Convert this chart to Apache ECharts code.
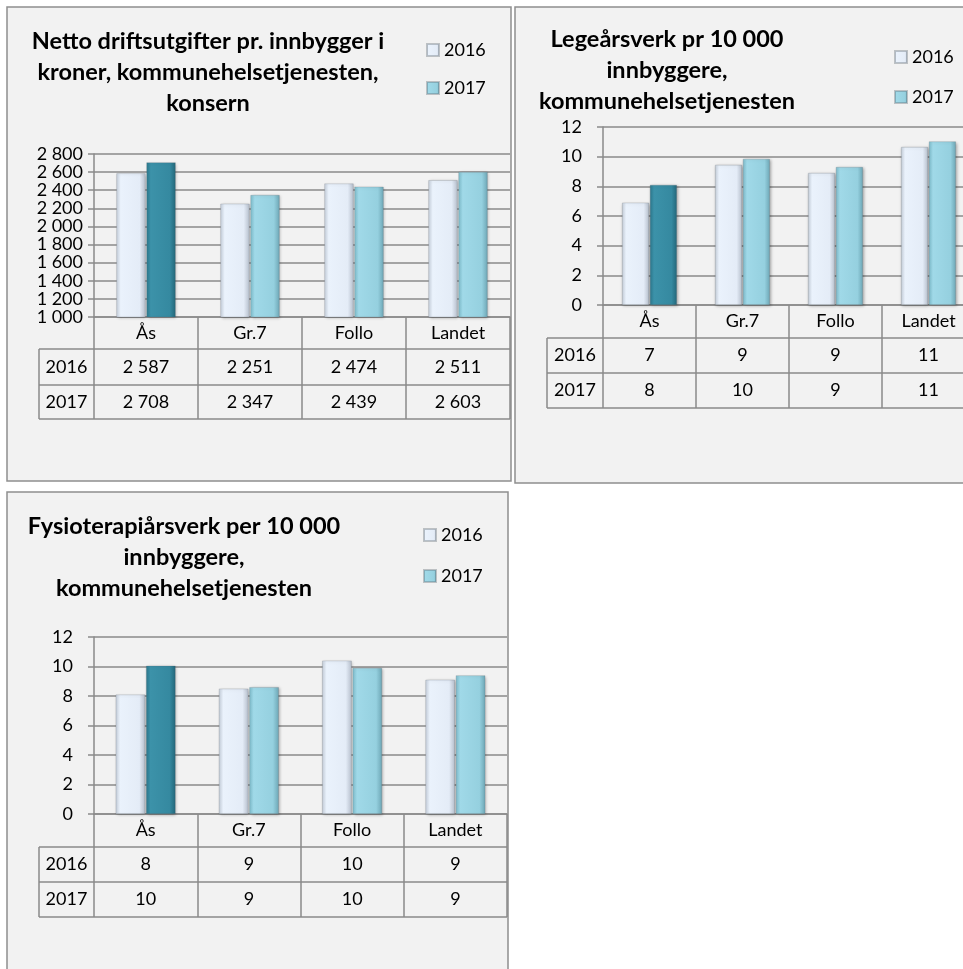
<!DOCTYPE html>
<html>
<head>
<meta charset="utf-8">
<script src="https://cdn.jsdelivr.net/npm/echarts@6/dist/echarts.min.js"></script>
<style>
  html, body { margin: 0; padding: 0; background: #ffffff; }
  #chart { width: 963px; height: 969px; }
</style>
</head>
<body>
<div id="chart"></div>
<script>
const categories = ['Ås', 'Gr.7', 'Follo', 'Landet'];
const years = ['2016', '2017'];

const netto2016 = [2587, 2251, 2474, 2511];
const netto2017 = [2708, 2347, 2439, 2603];
const nettoTicks = { min: 1000, max: 2800, interval: 200 };

const lege2016 = [6.9, 9.45, 8.9, 10.65];
const lege2017 = [8.1, 9.85, 9.3, 11.03];
const legeTicks = { min: 0, max: 12, interval: 2 };

const fysio2016 = [8.1, 8.5, 10.4, 9.1];
const fysio2017 = [10.05, 8.6, 9.9, 9.4];
const fysioTicks = { min: 0, max: 12, interval: 2 };

const FONT = 'Lato, "Open Sans", sans-serif';
const LINE = '#8a8a8a';

const fmtSpace = v => String(v).replace(/\B(?=(\d{3})+(?!\d))/g, ' ');

function grad(stops) {
  return {
    type: 'linear', x: 0, y: 0, x2: 1, y2: 0,
    colorStops: stops.map((c, i) => ({ offset: [0, 0.15, 0.8, 1][i], color: c }))
  };
}
const col2016 = grad(['#c6cfdb', '#eaf2fc', '#e4ecf7', '#b5becb']);
const col2017 = grad(['#7dbccb', '#a0d9e8', '#95d0df', '#6da6b5']);
const colHome = grad(['#2b788d', '#3c92a9', '#3589a0', '#23677a']);

const panels = [
  {
    title: 'Netto driftsutgifter pr. innbygger i\nkroner, kommunehelsetjenesten,\nkonsern',
    titleX: 208, titleY: 26,
    legendX: 426, legendY: 40, legendGap: 18,
    box: [7, 7, 504, 474],
    grid: { left: 94, top: 154, width: 416, height: 163 },
    headerLeft: 39, labelMargin: 11, yFont: 18, catGap: '43%',
    a: netto2016, b: netto2017, ticks: nettoTicks,
    fmt: v => fmtSpace(v), rows: [32, 36, 34]
  },
  {
    title: 'Legeårsverk pr 10 000\ninnbyggere,\nkommunehelsetjenesten',
    titleX: 667, titleY: 24,
    legendX: 894, legendY: 47, legendGap: 20,
    box: [515, 7, 470, 476],
    grid: { left: 603, top: 127, width: 372, height: 178 },
    headerLeft: 547, labelMargin: 21, yFont: 18, catGap: '41%',
    a: lege2016, b: lege2017, ticks: legeTicks,
    fmt: v => String(Math.round(v)), rows: [33, 35, 35]
  },
  {
    title: 'Fysioterapiårsverk per 10 000\ninnbyggere,\nkommunehelsetjenesten',
    titleX: 184, titleY: 511,
    legendX: 423, legendY: 525, legendGap: 21,
    box: [7, 492, 501, 500],
    grid: { left: 94, top: 637, width: 413, height: 177 },
    headerLeft: 39, labelMargin: 21, yFont: 18, catGap: '42%',
    a: fysio2016, b: fysio2017, ticks: fysioTicks,
    fmt: v => String(Math.round(v)), rows: [33, 35, 35]
  }
];

const option = {
  backgroundColor: '#ffffff',
  animation: false,
  grid: [], xAxis: [], yAxis: [], series: [], legend: [], graphic: []
};

const barStyle = {
  borderColor: 'rgba(90,100,110,0.35)',
  borderWidth: 0.6,
  shadowBlur: 3,
  shadowColor: 'rgba(0,0,0,0.3)',
  shadowOffsetX: 1,
  shadowOffsetY: 1
};

panels.forEach((p, i) => {
  const g = p.grid;
  const bottom = g.top + g.height;
  const right = g.left + g.width;
  const tableH = p.rows[0] + p.rows[1] + p.rows[2];

  // panel background + border
  option.graphic.push({
    type: 'rect', z: -10, silent: true,
    shape: { x: p.box[0], y: p.box[1], width: p.box[2], height: p.box[3] },
    style: { fill: '#f2f2f2', stroke: '#8f8f8f', lineWidth: 1.5 }
  });

  // title
  option.graphic.push({
    type: 'text', z: 5, x: p.titleX, y: p.titleY,
    style: {
      text: p.title, align: 'center', verticalAlign: 'top',
      fontFamily: FONT, fontWeight: 'bold', fontSize: 23.5, lineHeight: 31, fill: '#000'
    }
  });

  option.legend.push({
    data: years, orient: 'vertical', left: p.legendX, top: p.legendY,
    padding: 0, itemGap: p.legendGap, itemWidth: 12, itemHeight: 12, icon: 'rect',
    textStyle: { fontFamily: FONT, fontSize: 18, color: '#000', lineHeight: 20 }
  });

  option.grid.push({
    left: g.left, top: g.top, width: g.width, height: g.height,
    containLabel: false, outerBoundsMode: 'none'
  });

  const a = p.a, b = p.b, fmt = p.fmt;
  option.xAxis.push({
    type: 'category', gridIndex: i, data: categories,
    axisLine: { show: true, lineStyle: { color: LINE, width: 1.5 } },
    axisTick: { show: true, interval: 0, length: tableH, lineStyle: { color: LINE, width: 1.5 } },
    axisLabel: {
      interval: 0, margin: 0,
      formatter: (v, idx) => `{c|${v}}\n{v|${fmt(a[idx])}}\n{v2|${fmt(b[idx])}}`,
      rich: {
        c: { fontFamily: FONT, fontSize: 18, color: '#000', lineHeight: p.rows[0], height: p.rows[0] },
        v: { fontFamily: FONT, fontSize: 18, color: '#000', lineHeight: p.rows[1], height: p.rows[1] },
        v2: { fontFamily: FONT, fontSize: 18, color: '#000', lineHeight: p.rows[2], height: p.rows[2] }
      }
    }
  });

  option.yAxis.push({
    type: 'value', gridIndex: i,
    min: p.ticks.min, max: p.ticks.max, interval: p.ticks.interval,
    axisLine: { show: true, lineStyle: { color: LINE, width: 1.5 } },
    axisTick: { show: true, length: 6, lineStyle: { color: LINE, width: 1.5 } },
    splitLine: { show: true, lineStyle: { color: LINE, width: 1.5 } },
    axisLabel: {
      margin: p.labelMargin, fontFamily: FONT, fontSize: p.yFont, color: '#000',
      showMinLabel: true, showMaxLabel: true,
      formatter: v => fmtSpace(v)
    }
  });

  option.series.push({
    name: years[0], type: 'bar', xAxisIndex: i, yAxisIndex: i,
    data: a, barGap: '3%', barCategoryGap: p.catGap,
    itemStyle: Object.assign({ color: col2016 }, barStyle)
  });
  option.series.push({
    name: years[1], type: 'bar', xAxisIndex: i, yAxisIndex: i,
    data: b.map((v, idx) => idx === 0
      ? { value: v, itemStyle: { color: colHome } }
      : v),
    barGap: '3%', barCategoryGap: p.catGap,
    itemStyle: Object.assign({ color: col2017 }, barStyle)
  });

  // data table rules and row headers
  let y = bottom;
  const rowY = [];
  for (let r = 0; r < 3; r++) {
    y += p.rows[r];
    rowY.push(y);
  }
  const hLine = yy => ({
    type: 'line', z: 3, silent: true,
    shape: { x1: p.headerLeft, y1: yy, x2: right, y2: yy },
    style: { stroke: LINE, lineWidth: 1.5 }
  });
  option.graphic.push(hLine(rowY[0]));
  option.graphic.push(hLine(rowY[1]));
  option.graphic.push(hLine(rowY[2]));
  option.graphic.push({
    type: 'line', z: 3, silent: true,
    shape: { x1: p.headerLeft, y1: rowY[0], x2: p.headerLeft, y2: rowY[2] },
    style: { stroke: LINE, lineWidth: 1.5 }
  });
  years.forEach((yr, k) => {
    const top = rowY[k];
    const h = p.rows[k + 1];
    option.graphic.push({
      type: 'text', z: 5, x: (p.headerLeft + g.left) / 2, y: top + h / 2,
      style: {
        text: yr, align: 'center', verticalAlign: 'middle',
        fontFamily: FONT, fontSize: 18, fill: '#000'
      }
    });
  });
});

const chart = echarts.init(document.getElementById('chart'), null, { renderer: 'canvas' });
chart.setOption(option);
window.addEventListener('resize', () => chart.resize());
</script>
</body>
</html>
